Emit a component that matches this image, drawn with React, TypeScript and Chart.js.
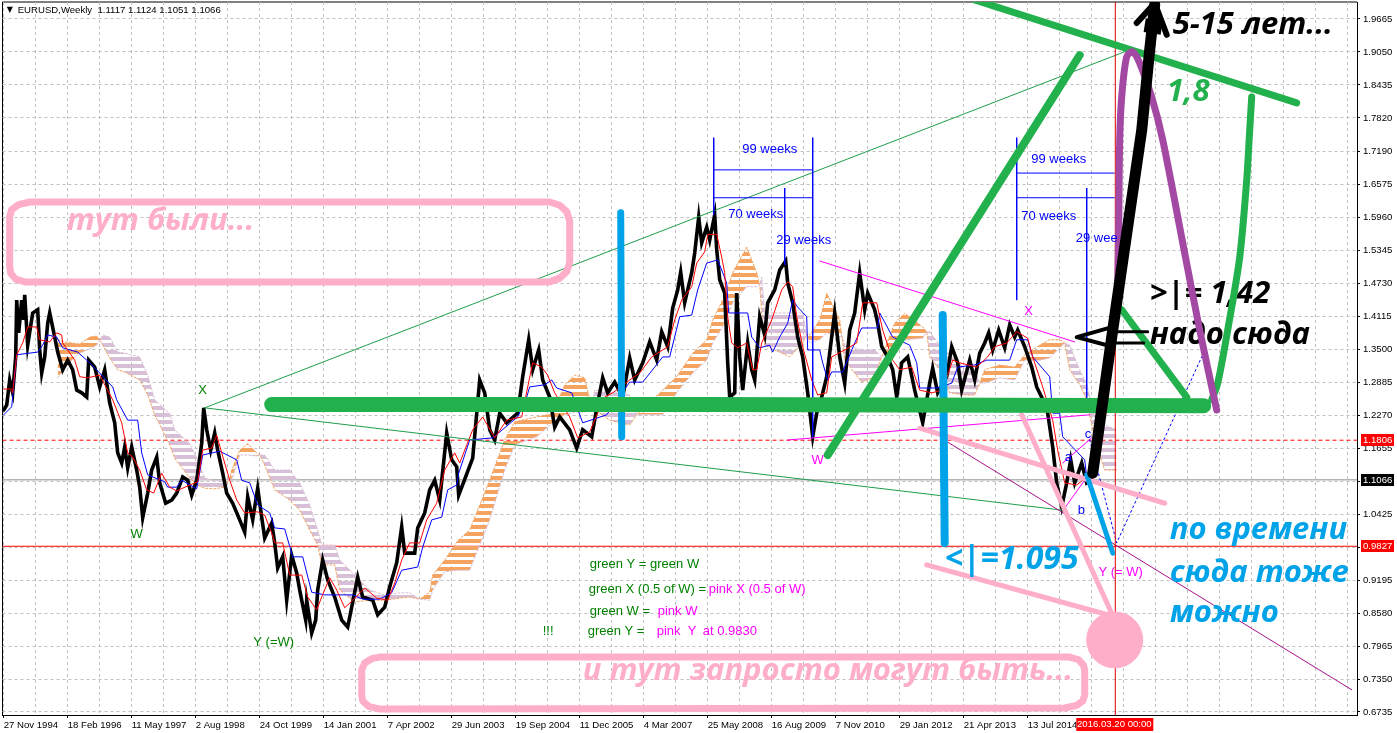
import React, { useEffect, useRef } from "react";
import { Chart, LineController, registerables } from "chart.js";
Chart.register(...registerables);
// Thick annotation strokes must not push the plot area inwards.
(LineController.prototype as any).getMaxOverflow = () => 0;

const dateLabels = ["27 Nov 1994","18 Feb 1996","11 May 1997","2 Aug 1998","24 Oct 1999","14 Jan 2001","7 Apr 2002","29 Jun 2003","19 Sep 2004","11 Dec 2005","4 Mar 2007","25 May 2008","16 Aug 2009","7 Nov 2010","29 Jan 2012","21 Apr 2013","13 Jul 2014"];
const priceTicks = [0.6735,0.735,0.7965,0.858,0.9195,0.981,1.0425,1.104,1.1655,1.227,1.2885,1.35,1.4115,1.473,1.5345,1.596,1.6575,1.719,1.782,1.8435,1.905,1.9665];

const priceWeeks = [0,3,6,9,12,13,15,18,20,21,24,29,34,36,38,41,44,46,51,54,59,64,69,73,78,83,85,91,96,101,106,111,114,118,121,124,128,133,136,139,144,148,153,156,162,168,173,179,184,188,193,198,200,203,207,211,214,219,223,229,236,241,244,249,254,258,261,268,271,274,279,283,288,293,296,302,303,308,312,314,319,324,331,338,344,348,354,359,369,374,381,386,393,398,401,411,414,421,426,431,436,443,448,453,455,469,476,481,486,491,496,503,514,519,525,529,535,539,546,551,556,566,573,579,588,594,599,604,611,619,626,631,639,646,653,658,664,669,674,677,681,688,691,695,698,703,706,711,713,716,721,724,726,731,733,736,739,744,748,751,756,761,764,771,776,782,784,789,794,799,804,809,813,818,823,831,836,841,846,851,856,861,864,871,874,878,884,889,893,898,904,911,919,926,929,934,943,948,954,958,966,971,976,981,985,989,995,1001,1006,1011,1014,1021,1028,1033,1038,1044,1049,1053,1058,1063,1067,1071,1078,1083,1088];
const priceValues = [1.237,1.246,1.293,1.269,1.336,1.442,1.381,1.442,1.405,1.452,1.358,1.418,1.424,1.349,1.306,1.336,1.399,1.418,1.373,1.345,1.312,1.33,1.312,1.274,1.269,1.261,1.33,1.317,1.28,1.312,1.25,1.213,1.157,1.138,1.168,1.129,1.168,1.125,1.093,1.036,1.082,1.125,1.149,1.101,1.063,1.069,1.082,1.112,1.106,1.078,1.106,1.175,1.241,1.2,1.162,1.194,1.162,1.119,1.082,1.063,1.032,1.009,1.075,1.032,1.091,1.037,0.998,1.026,0.989,0.942,0.963,0.882,0.966,0.933,0.901,0.845,0.882,0.821,0.845,0.901,0.957,0.92,0.888,0.845,0.832,0.869,0.925,0.888,0.882,0.855,0.869,0.907,0.952,1.019,0.97,0.97,1.017,1.045,1.088,1.106,1.069,1.194,1.144,1.131,1.078,1.147,1.293,1.269,1.2,1.181,1.231,1.213,1.231,1.299,1.368,1.312,1.349,1.293,1.261,1.205,1.224,1.2,1.166,1.2,1.187,1.25,1.297,1.269,1.289,1.261,1.334,1.293,1.325,1.364,1.33,1.383,1.355,1.427,1.461,1.494,1.437,1.493,1.53,1.597,1.549,1.578,1.554,1.601,1.536,1.48,1.455,1.325,1.261,1.269,1.455,1.336,1.274,1.362,1.312,1.293,1.411,1.377,1.437,1.461,1.498,1.515,1.474,1.437,1.373,1.336,1.269,1.187,1.231,1.261,1.299,1.418,1.336,1.287,1.386,1.418,1.493,1.424,1.455,1.424,1.399,1.355,1.336,1.312,1.261,1.325,1.336,1.274,1.213,1.287,1.315,1.269,1.299,1.355,1.325,1.274,1.33,1.293,1.343,1.362,1.381,1.349,1.386,1.353,1.396,1.373,1.386,1.355,1.317,1.28,1.261,1.231,1.168,1.101,1.056,1.101,1.144,1.101,1.138,1.101,1.1066];

const tenkanWeeks = [0,8,9,13,19,24,33,36,46,53,58,59,71,76,84,96,109,118,124,129,136,143,150,158,166,173,186,194,199,208,213,218,226,233,241,254,261,268,271,279,286,298,304,313,318,326,333,341,349,361,373,384,391,398,406,416,423,433,441,451,456,469,479,491,503,518,524,529,538,544,551,566,574,586,594,601,609,626,636,648,664,671,678,688,693,701,704,713,718,721,724,728,734,743,749,753,758,768,778,784,789,793,799,808,814,823,828,841,853,859,873,879,889,896,908,916,928,939,949,956,973,984,991,1003,1013,1024,1029,1039,1049,1054,1061,1073,1083];
const tenkanValues = [1.276,1.276,1.269,1.34,1.362,1.392,1.392,1.368,1.364,1.381,1.377,1.362,1.33,1.299,1.297,1.302,1.256,1.213,1.157,1.149,1.125,1.088,1.082,1.119,1.093,1.086,1.097,1.103,1.162,1.166,1.19,1.157,1.106,1.069,1.045,1.047,1.041,1.007,0.989,0.989,0.929,0.929,0.888,0.864,0.888,0.924,0.901,0.868,0.882,0.905,0.886,0.882,0.914,0.957,0.989,0.989,1.032,1.063,1.125,1.157,1.138,1.2,1.224,1.185,1.218,1.224,1.28,1.325,1.317,1.302,1.269,1.224,1.185,1.196,1.231,1.261,1.269,1.293,1.306,1.336,1.355,1.405,1.442,1.467,1.511,1.532,1.564,1.565,1.522,1.493,1.411,1.362,1.353,1.362,1.312,1.312,1.362,1.405,1.461,1.476,1.467,1.411,1.355,1.293,1.265,1.269,1.336,1.349,1.362,1.437,1.437,1.386,1.33,1.312,1.317,1.274,1.269,1.274,1.33,1.325,1.317,1.336,1.355,1.362,1.383,1.371,1.336,1.28,1.218,1.162,1.101,1.097,1.112];

const kijunWeeks = [0,8,13,34,39,44,53,59,74,86,96,109,113,124,134,138,144,161,164,173,178,193,199,216,233,238,246,254,266,271,281,289,299,308,321,349,359,376,388,398,414,419,428,438,444,453,455,466,489,514,523,526,541,548,553,568,579,603,626,639,651,659,666,676,688,694,703,714,718,723,725,744,748,756,766,769,776,784,789,794,803,804,816,819,824,828,839,851,858,874,876,889,906,913,916,933,948,954,971,983,1006,1013,1024,1029,1046,1049,1056,1059,1081,1083];
const kijunValues = [1.228,1.243,1.34,1.345,1.358,1.377,1.373,1.353,1.345,1.325,1.306,1.28,1.256,1.218,1.218,1.157,1.116,1.103,1.093,1.093,1.106,1.09,1.153,1.16,1.144,1.106,1.101,1.06,1.045,1.017,1.015,0.963,0.963,0.897,0.892,0.892,0.884,0.884,0.896,0.938,0.944,0.981,1.032,1.037,1.088,1.097,1.119,1.181,1.185,1.224,1.261,1.28,1.284,1.293,1.278,1.269,1.213,1.228,1.289,1.289,1.317,1.336,1.336,1.411,1.414,1.461,1.511,1.517,1.498,1.474,1.418,1.418,1.373,1.353,1.358,1.345,1.373,1.399,1.442,1.429,1.411,1.349,1.349,1.325,1.293,1.308,1.308,1.362,1.39,1.39,1.418,1.373,1.358,1.325,1.278,1.278,1.287,1.317,1.321,1.33,1.33,1.368,1.368,1.336,1.299,1.231,1.231,1.187,1.144,1.112];

const cloudWeeks = [54,61,68,76,86,93,96,99,106,114,121,136,144,151,166,171,186,194,201,211,221,226,228,236,244,253,256,261,271,286,296,306,314,318,331,336,351,366,381,396,406,416,426,429,441,454,466,486,501,511,533,549,561,571,581,588,591,606,626,633,659,673,689,703,709,719,729,743,753,756,758,761,786,799,803,806,816,823,836,838,841,858,871,878,891,901,919,923,926,936,946,961,971,976,981,996,1011,1021,1036,1046,1056,1061,1066,1076,1083,1091,1101,1113];
const spanA = [1.368,1.364,1.362,1.36,1.373,1.375,1.368,1.358,1.334,1.312,1.308,1.293,1.265,1.228,1.172,1.147,1.11,1.097,1.091,1.09,1.093,1.11,1.125,1.162,1.174,1.157,1.153,1.134,1.088,1.069,1.05,1.013,0.985,0.948,0.948,0.901,0.879,0.882,0.882,0.886,0.888,0.884,0.897,0.929,0.957,0.993,1.013,1.106,1.181,1.215,1.224,1.23,1.284,1.302,1.297,1.24,1.237,1.218,1.209,1.228,1.274,1.299,1.343,1.368,1.405,1.442,1.493,1.541,1.493,1.47,1.418,1.358,1.336,1.362,1.377,1.377,1.405,1.455,1.405,1.377,1.33,1.289,1.299,1.336,1.399,1.418,1.392,1.383,1.336,1.312,1.269,1.265,1.265,1.287,1.312,1.321,1.317,1.34,1.358,1.368,1.368,1.362,1.312,1.284,1.256,1.181,1.125,1.125];
const spanB = [1.297,1.315,1.33,1.343,1.351,1.358,1.368,1.377,1.373,1.345,1.343,1.336,1.302,1.256,1.23,1.2,1.174,1.144,1.11,1.105,1.105,1.11,1.106,1.153,1.153,1.151,1.153,1.153,1.125,1.125,1.101,1.06,1.013,0.985,0.985,0.957,0.929,0.901,0.892,0.896,0.896,0.884,0.882,0.901,0.935,0.938,0.938,1.032,1.125,1.172,1.187,1.213,1.228,1.233,1.233,1.24,1.274,1.271,1.265,1.228,1.228,1.269,1.306,1.33,1.362,1.392,1.437,1.467,1.467,1.47,1.485,1.418,1.418,1.418,1.377,1.362,1.368,1.381,1.373,1.377,1.358,1.349,1.349,1.336,1.349,1.368,1.371,1.383,1.383,1.358,1.34,1.315,1.312,1.287,1.287,1.297,1.293,1.33,1.33,1.334,1.353,1.362,1.358,1.312,1.284,1.228,1.209,1.2];

// Horizontal price levels and the date of the vertical marker
const closeLevel = 1.1066;
const dashedLevel = 1.1806;
const solidLevel = 0.9827;
const cursorWeek = 1111.6;

// Drawn annotations as [week, price]
const greenBase = [[268,1.247],[700,1.247],[1200,1.245]];
const greenDiagonal = [[824,1.153],[1076,1.899]];
const greenRoof = [[971,2.002],[1293,1.81]];
const greenCurve = [[1248,1.821],[1246,1.759],[1243,1.666],[1236,1.522],[1224,1.386],[1214,1.287],[1208,1.256]];
const greenDrop = [[1118,1.424],[1183,1.261]];
const greenThinUp = [[201,1.241],[1126,1.909]];
const greenThinDown = [[201,1.241],[1059,1.05]];
const cyanBarA = [[617,1.605],[618,1.187]];
const cyanBarB = [[939,1.414],[941,0.989]];
const cyanDrop = [[1083,1.116],[1109,0.97]];
const purpleCurve = [[1213,1.237],[1196,1.386],[1179,1.549],[1159,1.741],[1148,1.821],[1136,1.884],[1129,1.905],[1123,1.896],[1118,1.821],[1116,1.741],[1115,1.573],[1114,1.461]];
const blackShaft = [[1089,1.119],[1109,1.386],[1138,1.759],[1146,1.909],[1151,1.993]];
const blackHead = [[1133,1.959],[1151,1.996],[1163,1.937]];
const blackHeadBase = [[1141,1.955],[1158,1.95]];
const blackPointer = [[1109,1.392],[1073,1.373],[1109,1.355]];
const blackPointerTop = [[1109,1.383],[1144,1.383]];
const blackPointerLow = [[1109,1.362],[1140,1.362]];
const pinkBoxTop = [[26,1.625],[546,1.625],[556,1.619],[563,1.607],[566,1.59],[566,1.512],[563,1.495],[556,1.483],[546,1.476],[21,1.476],[12,1.481],[7,1.492],[6,1.505],[6,1.598],[8,1.611],[15,1.62],[26,1.625]];
const pinkBoxLow = [[376,0.776],[1066,0.776],[1075,0.771],[1080,0.76],[1081,0.75],[1081,0.705],[1079,0.694],[1073,0.686],[1061,0.681],[376,0.679],[365,0.684],[359,0.694],[358,0.705],[358,0.752],[361,0.765],[368,0.773],[376,0.776]];
const pinkA = [[916,1.203],[1161,1.063]];
const pinkB = [[1018,1.228],[1111,0.845]];
const pinkC = [[923,0.948],[1104,0.855]];
const pinkDot = [[1111,0.808]];
const magentaRoof = [[816,1.515],[1071,1.364]];
const magentaFloor = [[784,1.181],[1086,1.228]];
const magentaLow = [[1061,1.054],[1086,1.119]];
const magentaHigh = [[1059,1.138],[1088,1.185]];
const plumLine = [[944,1.177],[1348,0.715]];
const dottedBlue = [[1086,1.181],[1113,0.989],[1198,1.336]];
const weeksA = [[[710,1.745],[710,1.601]],[[809,1.745],[809,1.187]],[[781,1.651],[781,1.508]],[[710,1.685],[809,1.685]],[[710,1.633],[809,1.633]]];
const weeksB = [[[1013,1.745],[1013,1.442]],[[1083,1.651],[1083,1.256]],[[1013,1.679],[1111,1.679]],[[1013,1.633],[1111,1.633]]];

const AXIS_FAMILY = "Liberation Sans";
const AXIS_SIZE = 9.6;
const axisFont = `${AXIS_SIZE}px '${AXIS_FAMILY}'`;
const small = "13px 'Liberation Sans'";
const big = (n: number) => `italic bold ${n}px 'Open Sans'`;
const GREEN = "#008000", MAG = "#ff00ff", BLUE = "#0000ff", PINK = "#ffaec9", CYAN = "#00a2e8", GR2 = "#22b14c";
type T = { w: number; p: number; t: string; c: string; f?: string; a?: CanvasTextAlign };
const underTexts: T[] = [
  { w: 1146, p: 1.453, t: ">|= 1,42", c: "#000", f: big(31) },
  { w: 1146, p: 1.377, t: "надо сюда", c: "#000", f: big(31) },
];
const overTexts: T[] = [
  { w: 3, p: 1.983, t: "▼", c: "#000", f: "8px 'DejaVu Sans'" },
  { w: 14, p: 1.983, t: "EURUSD,Weekly  1.1117 1.1124 1.1051 1.1066", c: "#000", f: axisFont },
  { w: 199, p: 1.274, t: "X", c: GREEN, a: "center" },
  { w: 133, p: 1.004, t: "W", c: GREEN, a: "center" },
  { w: 270, p: 0.804, t: "Y (=W)", c: GREEN, a: "center" },
  { w: 1025, p: 1.42, t: "X", c: MAG, a: "center" },
  { w: 814, p: 1.142, t: "W", c: MAG, a: "center" },
  { w: 1117, p: 0.933, t: "Y (= W)", c: MAG, a: "center" },
  { w: 1061, p: 1.149, t: "a", c: BLUE },
  { w: 1074, p: 1.05, t: "b", c: BLUE },
  { w: 1081, p: 1.192, t: "c", c: BLUE },
  { w: 766, p: 1.724, t: "99 weeks", c: BLUE, a: "center" },
  { w: 752, p: 1.601, t: "70 weeks", c: BLUE, a: "center" },
  { w: 800, p: 1.554, t: "29 weeks", c: BLUE, a: "center" },
  { w: 1055, p: 1.705, t: "99 weeks", c: BLUE, a: "center" },
  { w: 1045, p: 1.599, t: "70 weeks", c: BLUE, a: "center" },
  { w: 1072, p: 1.558, t: "29 wee", c: BLUE },
  { w: 586, p: 0.948, t: "green Y = green W", c: GREEN },
  { w: 585, p: 0.903, t: "green X (0.5 of W) =", c: GREEN },
  { w: 705, p: 0.903, t: "pink X (0.5 of W)", c: MAG },
  { w: 586, p: 0.862, t: "green W =", c: GREEN },
  { w: 654, p: 0.862, t: "pink W", c: MAG },
  { w: 539, p: 0.823, t: "!!!", c: GREEN },
  { w: 584, p: 0.823, t: "green Y =", c: GREEN },
  { w: 653, p: 0.823, t: "pink  Y", c: MAG },
  { w: 699, p: 0.823, t: "at 0.9830", c: MAG },
  { w: 63, p: 1.59, t: "тут были...", c: PINK, f: big(31) },
  { w: 579, p: 0.75, t: "и тут запросто могут быть...", c: PINK, f: big(31) },
  { w: 1169, p: 1.955, t: "5-15 лет...", c: "#000", f: big(31) },
  { w: 1163, p: 1.83, t: "1,8", c: GR2, f: big(31) },
  { w: 941, p: 0.957, t: "<|=1.095", c: CYAN, f: big(32) },
  { w: 1166, p: 1.013, t: "по времени", c: CYAN, f: big(31) },
  { w: 1166, p: 0.933, t: "сюда тоже", c: CYAN, f: big(31) },
  { w: 1166, p: 0.858, t: "можно", c: CYAN, f: big(31) },
];

const stripes = (color: string) => {
  const c = document.createElement("canvas");
  c.width = 4; c.height = 7;
  const g = c.getContext("2d")!;
  g.fillStyle = color;
  g.fillRect(0, 0, 4, 4);
  return g.createPattern(c, "repeat")!;
};

const pts = (a: number[][]) => a.map(([x, y]) => ({ x, y }));
const zip = (w: number[], v: number[]) => w.map((x, i) => ({ x, y: v[i] }));
const line = (data: any[], color: string, width: number, extra: any = {}) => ({
  data, borderColor: color, borderWidth: width, pointRadius: 0, tension: 0, fill: false,
  borderCapStyle: "round", borderJoinStyle: "round", ...extra,
});
const noMargins = (s: any) => { s.paddingLeft = 0; s.paddingRight = 0; s.paddingTop = 0; s.paddingBottom = 0; };

export default function App() {
  const ref = useRef<HTMLCanvasElement>(null);
  useEffect(() => {
    const xL = -1.2, xR = 1353.3;
    const ds: any[] = [
      line(pts([[xL, closeLevel], [xR, closeLevel]]), "#b4b4b4", 1.5, { borderCapStyle: "butt" }),
      line(pts([[xL, dashedLevel], [xR, dashedLevel]]), "#ff0000", 1, { borderDash: [4, 3], borderCapStyle: "butt" }),
      line(pts([[xL, solidLevel], [xR, solidLevel]]), "#ff0000", 1, { borderCapStyle: "butt" }),
      line(zip(cloudWeeks, spanA), "#f4a460", 1, { borderDash: [2, 2], fill: { target: "+1", above: stripes("#f4a460"), below: stripes("#d8bfd8") } }),
      line(zip(cloudWeeks, spanB), "#d8bfd8", 1, { borderDash: [2, 2] }),
      line(zip(priceWeeks, priceValues), "#000", 3.6, { borderJoinStyle: "miter" }),
      line(zip(kijunWeeks, kijunValues), "#0000ff", 1),
      line(zip(tenkanWeeks, tenkanValues), "#ff0000", 1),
      line(pts(greenThinUp), "#1f9d4d", 1),
      line(pts(greenThinDown), "#1f9d4d", 1),
      line(pts(magentaRoof), MAG, 1),
      line(pts(magentaFloor), MAG, 1),
      line(pts(magentaLow), MAG, 1),
      line(pts(magentaHigh), MAG, 1),
      line(pts(plumLine), "#a8108c", 1),
      line(pts(dottedBlue), "#0000ff", 1, { borderDash: [2, 3] }),
      ...weeksA.map((s) => line(pts(s), "#0000ff", 1, { borderCapStyle: "butt" })),
      ...weeksB.map((s) => line(pts(s), "#0000ff", 1, { borderCapStyle: "butt" })),
      line(pts([[cursorWeek, 0.6], [cursorWeek, 2.1]]), "#e00000", 1, { borderCapStyle: "butt" }),
      line(pts(pinkBoxTop), PINK, 7),
      line(pts(pinkBoxLow), PINK, 7),
      line(pts(pinkA), PINK, 5),
      line(pts(pinkB), PINK, 5),
      line(pts(pinkC), PINK, 5),
      line(pts(pinkDot), PINK, 1, { pointRadius: 28, pointBackgroundColor: PINK, pointBorderColor: PINK }),
      line(pts(cyanBarA), CYAN, 7),
      line(pts(cyanBarB), CYAN, 8),
      line(pts(cyanDrop), CYAN, 5),
      line(pts(greenBase), GR2, 15),
      line(pts(greenDiagonal), GR2, 8),
      line(pts(greenRoof), GR2, 7),
      line(pts(greenCurve), GR2, 7, { tension: 0.3 }),
      line(pts(greenDrop), GR2, 7),
      line(pts(purpleCurve), "#a349a4", 7, { tension: 0.3 }),
      line(pts(blackPointer), "#000", 4),
      line(pts(blackPointerTop), "#000", 3),
      line(pts(blackPointerLow), "#000", 3),
      line(pts(blackShaft), "#000", 11),
      line(pts(blackHead), "#000", 6),
      line(pts(blackHeadBase), "#000", 14, { borderCapStyle: "butt" }),
    ];
    ds.forEach((d, i) => (d.order = ds.length - i));

    const drawTexts = (chart: any, list: T[]) => {
      const { ctx, scales } = chart;
      ctx.save();
      ctx.textBaseline = "middle";
      list.forEach((k) => {
        ctx.font = k.f || small;
        ctx.fillStyle = k.c;
        ctx.textAlign = k.a || "left";
        ctx.fillText(k.t, scales.x.getPixelForValue(k.w), scales.y.getPixelForValue(k.p));
      });
      ctx.restore();
    };
    const decor = {
      id: "decor",
      beforeDraw(chart: any) {
        const { ctx, width, height, chartArea: a } = chart;
        ctx.save();
        ctx.fillStyle = "#fff";
        ctx.fillRect(0, 0, width, height);
        ctx.strokeStyle = "#000";
        ctx.lineWidth = 1;
        ctx.beginPath();
        ctx.moveTo(a.left, a.bottom); ctx.lineTo(a.left, a.top); ctx.lineTo(a.right, a.top);
        ctx.stroke();
        ctx.restore();
      },
      beforeDatasetsDraw(chart: any) { drawTexts(chart, underTexts); },
      afterDatasetsDraw(chart: any) {
        drawTexts(chart, overTexts);
        const { ctx, scales, chartArea: a } = chart;
        ctx.save();
        ctx.font = axisFont;
        ctx.textBaseline = "middle";
        ctx.textAlign = "left";
        [[dashedLevel, "#ff0000"], [closeLevel, "#000000"], [solidLevel, "#ff0000"]].forEach(([v, bg]: any) => {
          const y = Math.round(scales.y.getPixelForValue(v));
          ctx.fillStyle = bg;
          ctx.fillRect(a.right + 4, y - 6, 33, 12);
          ctx.fillStyle = "#fff";
          ctx.fillText(v.toFixed(4), a.right + 6, y);
        });
        const x = scales.x.getPixelForValue(cursorWeek);
        ctx.fillStyle = "#ff0000";
        ctx.fillRect(x - 39, a.bottom + 3, 77, 13);
        ctx.fillStyle = "#fff";
        ctx.textAlign = "center";
        ctx.fillText("2016.03.20 00:00", x - 1, a.bottom + 9.5);
        ctx.restore();
      },
    };

    const chart = new Chart(ref.current!, {
      type: "line",
      data: { datasets: ds },
      plugins: [decor],
      options: {
        animation: false, responsive: false, devicePixelRatio: 1, events: [],
        layout: { padding: { left: 2.5, top: 2, right: 0, bottom: 0 } },
        plugins: { legend: { display: false }, tooltip: { enabled: false }, title: { display: false } },
        scales: {
          x: {
            type: "linear", min: xL, max: xR,
            afterBuildTicks: (s: any) => { s.ticks = Array.from({ length: 43 }, (_, i) => ({ value: i * 32 })); },
            afterFit: (s: any) => { s.height = 18; noMargins(s); },
            grid: { color: "#c0c0c0", tickLength: 3, tickColor: (c: any) => (c.index % 2 === 0 && c.index < 34 ? "#000" : "transparent") },
            border: { display: true, color: "#000", dash: [3, 3] },
            ticks: {
              autoSkip: false, maxRotation: 0, minRotation: 0, align: "start", padding: 2,
              color: "#000", font: { family: AXIS_FAMILY, size: AXIS_SIZE },
              callback: (_v: any, i: number) => (i % 2 === 0 && dateLabels[i / 2]) || "",
            },
          },
          y: {
            type: "linear", position: "right", min: 0.6679, max: 1.9982,
            afterBuildTicks: (s: any) => { s.ticks = priceTicks.map((value) => ({ value })); },
            afterFit: (s: any) => { s.width = 40; noMargins(s); },
            grid: { color: "#c0c0c0", tickLength: 3, tickColor: "#000" },
            border: { display: true, color: "#000", dash: [3, 3] },
            ticks: {
              autoSkip: false, padding: 3, color: "#000", font: { family: AXIS_FAMILY, size: AXIS_SIZE },
              callback: (v: any) => Number(v).toFixed(4),
            },
          },
        },
      } as any,
    });
    return () => chart.destroy();
  }, []);
  return (
    <div style={{ position: "fixed", left: 0, top: 0, width: 1397, height: 733 }}>
      <canvas ref={ref} width={1397} height={733} style={{ display: "block" }} />
    </div>
  );
}
